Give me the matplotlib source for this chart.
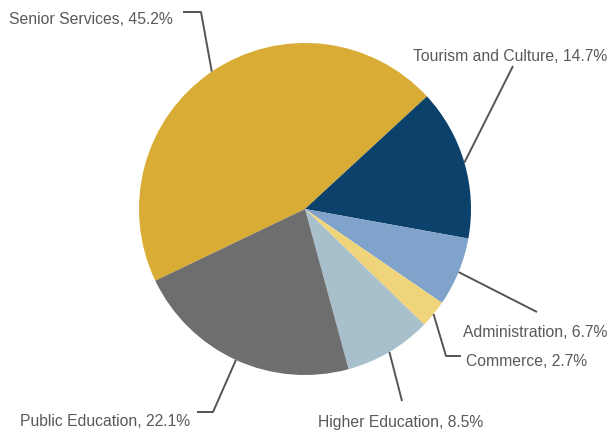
import numpy as np
import matplotlib.pyplot as plt

# Budget share by department
labels = ['Senior Services', 'Tourism and Culture', 'Administration',
          'Commerce', 'Higher Education', 'Public Education']
shares = [45.2, 14.7, 6.7, 2.7, 8.5, 22.1]
colors = ['#D9AC35', '#0B416A', '#7FA3CA', '#EFD47B', '#A8BFCC', '#6E6E6E']

# leader-line bend points and label baselines (pixel space, y down)
bends = [[(201, 13), (183, 13)], [(513, 67)], [(537, 313)],
         [(446, 357), (461, 357)], [(402, 402)], [(213, 413), (197, 413)]]
text_pos = [(173, 24, 'right'), (510, 61, 'center'), (535, 337, 'center'),
            (466, 366, 'left'), (401, 427, 'center'), (190, 426, 'right')]

W, H = 610, 435
cx, cy, r = 305, 210, 166
start = 205.6

fig = plt.figure(figsize=(W / 100, H / 100), dpi=100)
ax = fig.add_axes([0, 0, 1, 1])

wedges, _ = ax.pie(shares, colors=colors, startangle=start, counterclock=False,
                   center=(cx, H - cy), radius=r, frame=True,
                   wedgeprops=dict(linewidth=0))
ax.set_xlim(0, W)
ax.set_ylim(0, H)
ax.set_aspect('equal')
ax.axis('off')

for w, lab, val, pts, (tx, ty, ha) in zip(wedges, labels, shares, bends, text_pos):
    mid = np.deg2rad((w.theta1 + w.theta2) / 2)
    x0 = cx + r * np.cos(mid)
    y0 = (H - cy) + r * np.sin(mid)
    xs = [x0] + [p[0] for p in pts]
    ys = [y0] + [H - p[1] for p in pts]
    ax.plot(xs, ys, color='#555555', lw=1.4, solid_capstyle='butt')
    ax.text(tx, H - ty, f'{lab}, {val}%', ha=ha, va='baseline',
            fontsize=11.3, family='Liberation Sans', color='#595959')

fig.savefig('out.png', dpi=100)
